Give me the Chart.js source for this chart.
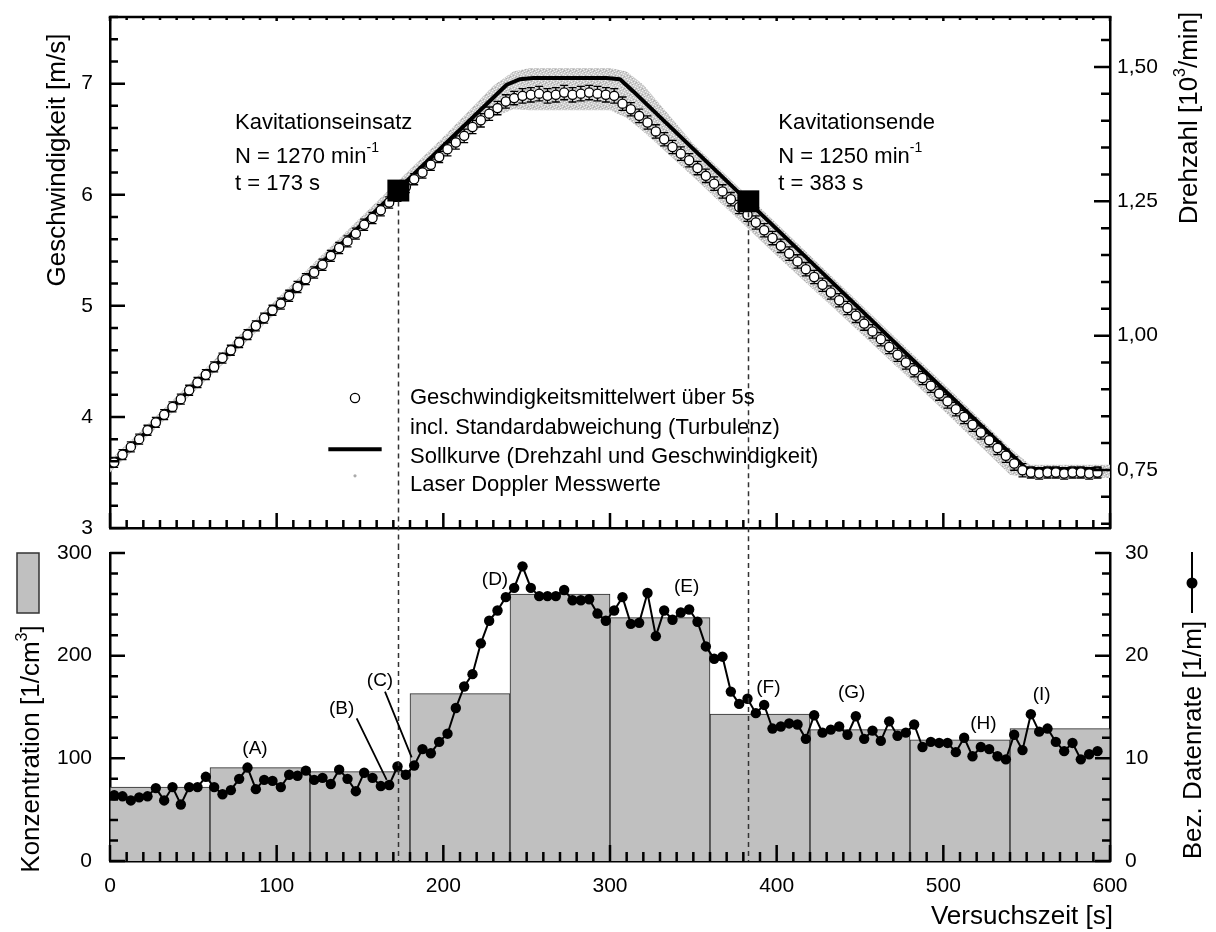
<!DOCTYPE html>
<html lang="de">
<head>
<meta charset="UTF-8">
<title>Kavitationsversuch – Geschwindigkeit und Datenrate</title>
<script src="https://cdn.jsdelivr.net/npm/chart.js"></script>
<style>
  html, body { margin: 0; padding: 0; background: #fff; }
  #wrap { position: relative; width: 1216px; height: 932px; }
  canvas { position: absolute; left: 0; }
  #oben { top: 0; }
  #unten { top: 545px; }
</style>
</head>
<body>
<div id="wrap">
  <canvas id="oben" width="1216" height="545"></canvas>
  <canvas id="unten" width="1216" height="387"></canvas>
</div>
<script>
const FONT = '"Liberation Sans", Arial, Helvetica, sans-serif';

// Sollkurve (Drehzahlrampe) in m/s
const sollT = [0, 238, 246, 254, 298, 306, 314, 550, 595];
const sollV = [3.55, 6.99, 7.04, 7.05, 7.05, 7.04, 6.93, 3.53, 3.53];

// Streubereich der LDA-Einzelwerte (obere / untere Huellkurve)
const ldaT  = [0, 50, 100, 150, 200, 230, 242, 252, 300, 310, 320, 350, 400, 450, 500, 540, 552, 600];
const ldaHi = [3.61, 4.33, 5.06, 5.79, 6.52, 6.98, 7.11, 7.14, 7.14, 7.11, 6.99, 6.46, 5.74, 5.02, 4.30, 3.72, 3.57, 3.57];
const ldaLo = [3.50, 4.22, 4.94, 5.65, 6.34, 6.70, 6.77, 6.76, 6.76, 6.69, 6.57, 6.16, 5.45, 4.76, 4.06, 3.48, 3.45, 3.45];

// Zeitpunkte der 5-s-Mittelwerte (Intervallmitte)
const tMid = [
  2.5, 7.5, 12.5, 17.5, 22.5, 27.5, 32.5, 37.5, 42.5, 47.5,
  52.5, 57.5, 62.5, 67.5, 72.5, 77.5, 82.5, 87.5, 92.5, 97.5,
  102.5, 107.5, 112.5, 117.5, 122.5, 127.5, 132.5, 137.5, 142.5, 147.5,
  152.5, 157.5, 162.5, 167.5, 172.5, 177.5, 182.5, 187.5, 192.5, 197.5,
  202.5, 207.5, 212.5, 217.5, 222.5, 227.5, 232.5, 237.5, 242.5, 247.5,
  252.5, 257.5, 262.5, 267.5, 272.5, 277.5, 282.5, 287.5, 292.5, 297.5,
  302.5, 307.5, 312.5, 317.5, 322.5, 327.5, 332.5, 337.5, 342.5, 347.5,
  352.5, 357.5, 362.5, 367.5, 372.5, 377.5, 382.5, 387.5, 392.5, 397.5,
  402.5, 407.5, 412.5, 417.5, 422.5, 427.5, 432.5, 437.5, 442.5, 447.5,
  452.5, 457.5, 462.5, 467.5, 472.5, 477.5, 482.5, 487.5, 492.5, 497.5,
  502.5, 507.5, 512.5, 517.5, 522.5, 527.5, 532.5, 537.5, 542.5, 547.5,
  552.5, 557.5, 562.5, 567.5, 572.5, 577.5, 582.5, 587.5, 592.5
];

// Geschwindigkeitsmittelwert ueber 5 s [m/s]
const vMean = [
  3.59, 3.66, 3.73, 3.80, 3.88, 3.95, 4.02, 4.09, 4.16, 4.24,
  4.31, 4.38, 4.45, 4.53, 4.60, 4.67, 4.74, 4.82, 4.89, 4.96,
  5.02, 5.09, 5.17, 5.24, 5.30, 5.37, 5.45, 5.52, 5.58, 5.65,
  5.73, 5.79, 5.86, 5.93, 5.99, 6.07, 6.14, 6.20, 6.27, 6.34,
  6.41, 6.47, 6.53, 6.61, 6.67, 6.73, 6.78, 6.84, 6.87, 6.89,
  6.90, 6.91, 6.89, 6.90, 6.92, 6.90, 6.91, 6.92, 6.91, 6.90,
  6.89, 6.82, 6.77, 6.71, 6.65, 6.57, 6.50, 6.43, 6.37, 6.31,
  6.24, 6.17, 6.10, 6.03, 5.96, 5.89, 5.82, 5.75, 5.68, 5.61,
  5.54, 5.47, 5.40, 5.33, 5.26, 5.19, 5.12, 5.05, 4.98, 4.91,
  4.84, 4.77, 4.70, 4.63, 4.56, 4.49, 4.42, 4.35, 4.28, 4.21,
  4.14, 4.07, 4.00, 3.93, 3.86, 3.79, 3.72, 3.65, 3.58, 3.52,
  3.50, 3.49, 3.50, 3.50, 3.49, 3.50, 3.50, 3.49, 3.50
];

// Standardabweichung (Turbulenz) [m/s]
const vStd = [
  0.045, 0.045, 0.045, 0.045, 0.045, 0.045, 0.045, 0.045, 0.045, 0.045,
  0.045, 0.045, 0.045, 0.045, 0.045, 0.045, 0.045, 0.045, 0.045, 0.045,
  0.05, 0.05, 0.05, 0.05, 0.05, 0.05, 0.05, 0.05, 0.05, 0.05,
  0.05, 0.05, 0.05, 0.05, 0.05, 0.05, 0.05, 0.05, 0.05, 0.05,
  0.06, 0.06, 0.06, 0.06, 0.06, 0.06, 0.06, 0.06, 0.06, 0.065,
  0.065, 0.065, 0.065, 0.065, 0.065, 0.065, 0.065, 0.065, 0.065, 0.065,
  0.065, 0.06, 0.06, 0.06, 0.06, 0.06, 0.06, 0.06, 0.06, 0.06,
  0.06, 0.06, 0.06, 0.06, 0.06, 0.06, 0.06, 0.06, 0.06, 0.06,
  0.06, 0.06, 0.06, 0.06, 0.06, 0.06, 0.06, 0.06, 0.06, 0.06,
  0.06, 0.06, 0.06, 0.06, 0.06, 0.06, 0.06, 0.06, 0.06, 0.06,
  0.06, 0.06, 0.06, 0.06, 0.06, 0.06, 0.06, 0.06, 0.06, 0.06,
  0.05, 0.05, 0.05, 0.05, 0.05, 0.05, 0.05, 0.05, 0.05
];

// Kavitationseinsatz und -ende: Zeit [s], Drehzahl [10^3/min]
const kavT = [173, 383];
const kavN = [1.27, 1.25];

// Partikelkonzentration je Minute [1/cm^3]
const binMid = [30, 90, 150, 210, 270, 330, 390, 450, 510, 570];
const konz   = [72, 91, 87, 163, 260, 237, 143, 128, 118, 129];

// Bezogene Datenrate [1/m], gleiche Zeitpunkte wie tMid
const rate = [
  6.4, 6.3, 5.9, 6.2, 6.3, 7.1, 5.9, 7.2, 5.5, 7.2,
  7.2, 8.2, 7.2, 6.5, 6.9, 8.0, 9.1, 7.0, 7.9, 7.8,
  7.2, 8.4, 8.3, 8.8, 7.9, 8.1, 7.5, 8.9, 8.0, 6.8,
  8.6, 8.1, 7.3, 7.4, 9.2, 8.4, 9.3, 10.9, 10.5, 11.6,
  12.4, 14.9, 17.0, 18.2, 21.2, 23.4, 24.4, 25.7, 26.6, 28.7,
  26.6, 25.8, 25.8, 25.8, 26.4, 25.4, 25.4, 25.5, 24.1, 23.4,
  24.4, 25.7, 23.1, 23.2, 26.1, 21.9, 24.4, 23.5, 24.2, 24.5,
  23.3, 20.9, 19.7, 19.9, 16.5, 15.3, 15.8, 14.4, 15.2, 12.9,
  13.1, 13.4, 13.3, 11.9, 14.2, 12.5, 12.8, 13.1, 12.3, 14.1,
  11.9, 12.7, 11.7, 13.6, 12.2, 12.5, 13.3, 11.1, 11.6, 11.5,
  11.5, 10.6, 12.0, 10.2, 11.1, 10.9, 10.2, 9.9, 12.3, 10.8,
  14.3, 12.6, 12.9, 11.6, 10.7, 11.5, 9.9, 10.4, 10.7
];

// Kennzeichnung der Messpunkte (A)..(I)
const markTxt = ['(A)', '(B)', '(C)', '(D)', '(E)', '(F)', '(G)', '(H)', '(I)'];
const markT   = [87, 139, 162, 231, 346, 395, 445, 524, 559];
const markK   = [109, 148, 176, 274, 267, 169, 164, 134, 162];

// Text mit Hochstellungen, Teile: 'text' oder {sup: 'x'}
function richText(ctx, parts, x, y, size, align) {
  const supSize = Math.round(size * 0.62);
  const segs = parts.map(p => typeof p === 'string' ? { s: p, sup: false } : { s: p.sup, sup: true });
  let total = 0;
  segs.forEach(g => {
    ctx.font = (g.sup ? supSize : size) + 'px ' + FONT;
    g.w = ctx.measureText(g.s).width;
    total += g.w;
  });
  let cx = align === 'center' ? x - total / 2 : (align === 'right' ? x - total : x);
  ctx.textAlign = 'left';
  ctx.textBaseline = 'middle';
  segs.forEach(g => {
    ctx.font = (g.sup ? supSize : size) + 'px ' + FONT;
    ctx.fillText(g.s, cx, g.sup ? y - size * 0.38 : y);
    cx += g.w;
  });
}

function rotText(ctx, parts, x, y, size) {
  ctx.save();
  ctx.translate(x, y);
  ctx.rotate(-Math.PI / 2);
  richText(ctx, parts, 0, 0, size, 'center');
  ctx.restore();
}

// gesprenkelte Flaeche fuer die Punktwolke der Einzelmessungen
function speckle() {
  const c = document.createElement('canvas');
  c.width = 6; c.height = 6;
  const g = c.getContext('2d');
  g.fillStyle = '#cdcdcd';
  g.fillRect(0, 0, 6, 6);
  g.fillStyle = '#f2f2f2';
  [[0, 0], [3, 1], [1, 3], [4, 4], [5, 2], [2, 5]].forEach(p => g.fillRect(p[0], p[1], 1, 1));
  g.fillStyle = '#adadad';
  [[2, 0], [5, 5], [0, 4], [3, 3]].forEach(p => g.fillRect(p[0], p[1], 1, 1));
  return g.createPattern(c, 'repeat');
}

// Teilstriche nach innen (Haupt- und Zwischenstriche)
const axisTicks = {
  id: 'axisTicks',
  afterDraw(chart, args, opts) {
    const ctx = chart.ctx, a = chart.chartArea;
    ctx.save();
    ctx.strokeStyle = '#000';
    ctx.lineWidth = 2.5;
    ctx.lineCap = 'butt';
    opts.marks.forEach(m => {
      const s = chart.scales[m.scale];
      const first = Math.ceil(s.min / m.minor - 1e-6);
      const last = Math.floor(s.max / m.minor + 1e-6);
      ctx.beginPath();
      for (let i = first; i <= last; i++) {
        const v = i * m.minor;
        const r = v / m.major;
        const len = Math.abs(r - Math.round(r)) < 1e-6 ? m.majorLen : m.minorLen;
        const p = s.getPixelForValue(v);
        if (m.side === 'left') { ctx.moveTo(a.left, p); ctx.lineTo(a.left + len, p); }
        if (m.side === 'right') { ctx.moveTo(a.right, p); ctx.lineTo(a.right - len, p); }
        if (m.side === 'bottom') { ctx.moveTo(p, a.bottom); ctx.lineTo(p, a.bottom - len); }
        if (m.side === 'top') { ctx.moveTo(p, a.top); ctx.lineTo(p, a.top + len); }
      }
      ctx.stroke();
    });
    if (opts.topLine) {
      ctx.beginPath();
      ctx.moveTo(a.left - 1.25, a.top);
      ctx.lineTo(a.right + 1.25, a.top);
      ctx.stroke();
    }
    ctx.restore();
  }
};

// Fehlerbalken der Mittelwerte, unter den Kreisen
const errorBars = {
  id: 'errorBars',
  beforeDatasetDraw(chart, args) {
    if (args.index !== 1) return;
    const ctx = chart.ctx, x = chart.scales.x, y = chart.scales.y;
    ctx.save();
    ctx.strokeStyle = '#000';
    ctx.lineWidth = 1.3;
    ctx.beginPath();
    tMid.forEach((t, i) => {
      const px = x.getPixelForValue(t);
      const hi = y.getPixelForValue(vMean[i] + vStd[i]);
      const lo = y.getPixelForValue(vMean[i] - vStd[i]);
      ctx.moveTo(px, hi); ctx.lineTo(px, lo);
      ctx.moveTo(px - 4, hi); ctx.lineTo(px + 4, hi);
      ctx.moveTo(px - 4, lo); ctx.lineTo(px + 4, lo);
    });
    ctx.stroke();
    ctx.restore();
  }
};

// gestrichelte Senkrechte bei Kavitationseinsatz / -ende
function kavLine(chart, yFrom, yTo) {
  const ctx = chart.ctx, x = chart.scales.x;
  ctx.save();
  ctx.strokeStyle = '#333';
  ctx.lineWidth = 1.5;
  ctx.setLineDash([5, 4]);
  kavT.forEach((t, i) => {
    const px = Math.round(x.getPixelForValue(t)) + 0.5;
    ctx.beginPath();
    ctx.moveTo(px, yFrom(i));
    ctx.lineTo(px, yTo);
    ctx.stroke();
  });
  ctx.restore();
}

const textOben = {
  id: 'textOben',
  afterDatasetsDraw(chart) {
    const yR = chart.scales.yR;
    kavLine(chart, i => yR.getPixelForValue(kavN[i]) + 11, chart.height);
  },
  afterDraw(chart) {
    const ctx = chart.ctx, x = chart.scales.x, y = chart.scales.y;
    ctx.save();
    ctx.fillStyle = '#000';
    rotText(ctx, ['Geschwindigkeit [m/s]'], 58, 160, 26);
    rotText(ctx, ['Drehzahl [10', { sup: '3' }, '/min]'], 1190, 118, 26);

    const heads = ['Kavitationseinsatz', 'Kavitationsende'];
    const left = [75, 401];
    kavT.forEach((t, i) => {
      const px = x.getPixelForValue(left[i]);
      richText(ctx, [heads[i]], px, y.getPixelForValue(6.65), 22, 'left');
      richText(ctx, ['N = ' + Math.round(kavN[i] * 1000) + ' min', { sup: '-1' }], px, y.getPixelForValue(6.34), 22, 'left');
      richText(ctx, ['t = ' + t + ' s'], px, y.getPixelForValue(6.10), 22, 'left');
    });

    // Legende
    const lx = x.getPixelForValue(180);
    const sx = x.getPixelForValue(147);
    ctx.lineWidth = 1.3;
    ctx.strokeStyle = '#000';
    ctx.fillStyle = '#fff';
    ctx.beginPath();
    ctx.arc(sx, y.getPixelForValue(4.17), 4.6, 0, Math.PI * 2);
    ctx.fill();
    ctx.stroke();
    ctx.lineWidth = 4;
    ctx.beginPath();
    ctx.moveTo(x.getPixelForValue(131), y.getPixelForValue(3.71));
    ctx.lineTo(x.getPixelForValue(163), y.getPixelForValue(3.71));
    ctx.stroke();
    ctx.fillStyle = '#aaa';
    ctx.beginPath();
    ctx.arc(sx, y.getPixelForValue(3.47), 1.6, 0, Math.PI * 2);
    ctx.fill();
    ctx.fillStyle = '#000';
    richText(ctx, ['Geschwindigkeitsmittelwert über 5s'], lx, y.getPixelForValue(4.17), 22, 'left');
    richText(ctx, ['incl. Standardabweichung (Turbulenz)'], lx, y.getPixelForValue(3.90), 22, 'left');
    richText(ctx, ['Sollkurve (Drehzahl und Geschwindigkeit)'], lx, y.getPixelForValue(3.64), 22, 'left');
    richText(ctx, ['Laser Doppler Messwerte'], lx, y.getPixelForValue(3.39), 22, 'left');
    ctx.restore();
  }
};

const textUnten = {
  id: 'textUnten',
  afterDatasetsDraw(chart) {
    kavLine(chart, () => 0, chart.chartArea.bottom);
  },
  afterDraw(chart) {
    const ctx = chart.ctx, x = chart.scales.x, y = chart.scales.y, a = chart.chartArea;
    ctx.save();
    ctx.fillStyle = '#000';
    rotText(ctx, ['Konzentration [1/cm', { sup: '3' }, ']'], 32, 204, 26);
    rotText(ctx, ['Bez. Datenrate [1/m]'], 1194, 195, 26);
    richText(ctx, ['Versuchszeit [s]'], a.right + 3, 372, 26, 'right');

    // Legendensymbole an den Achsentiteln
    ctx.fillStyle = '#c0c0c0';
    ctx.fillRect(17, a.top, 22, 60);
    ctx.strokeStyle = '#333';
    ctx.lineWidth = 1.5;
    ctx.strokeRect(17, a.top, 22, 60);
    ctx.strokeStyle = '#000';
    ctx.lineWidth = 2;
    ctx.beginPath();
    ctx.moveTo(1192, a.top - 1);
    ctx.lineTo(1192, a.top + 60);
    ctx.stroke();
    ctx.fillStyle = '#000';
    ctx.beginPath();
    ctx.arc(1192, a.top + 30, 5.5, 0, Math.PI * 2);
    ctx.fill();

    // Kennbuchstaben
    markTxt.forEach((s, i) => {
      richText(ctx, [s], x.getPixelForValue(markT[i]), y.getPixelForValue(markK[i]), 19, 'center');
    });
    ctx.lineWidth = 1.8;
    ctx.beginPath();
    ctx.moveTo(x.getPixelForValue(148), y.getPixelForValue(139));
    ctx.lineTo(x.getPixelForValue(166), y.getPixelForValue(79));
    ctx.moveTo(x.getPixelForValue(165), y.getPixelForValue(165));
    ctx.lineTo(x.getPixelForValue(181), y.getPixelForValue(101));
    ctx.stroke();
    ctx.restore();
  }
};

const tickFont = { family: FONT, size: 21 };
const noPad = s => { s.paddingTop = 0; s.paddingBottom = 0; s.paddingLeft = 0; s.paddingRight = 0; };
const axisBase = {
  type: 'linear',
  grid: { display: false, drawTicks: false },
  border: { display: true, color: '#000', width: 2.5 }
};

new Chart(document.getElementById('oben'), {
  type: 'line',
  data: {
    datasets: [
      {
        label: 'Kavitation',
        data: kavT.map((t, i) => ({ x: t, y: kavN[i] })),
        yAxisID: 'yR', showLine: false,
        pointStyle: 'rect', pointRadius: 15.5,
        pointBackgroundColor: '#000', pointBorderColor: '#000', pointBorderWidth: 0
      },
      {
        label: 'Geschwindigkeitsmittelwert über 5s',
        data: tMid.map((t, i) => ({ x: t, y: vMean[i] })),
        yAxisID: 'y', showLine: false,
        pointRadius: 4.6, pointBackgroundColor: '#fff', pointBorderColor: '#000', pointBorderWidth: 1.3
      },
      {
        label: 'Sollkurve',
        data: sollT.map((t, i) => ({ x: t, y: sollV[i] })),
        yAxisID: 'y', borderColor: '#000', borderWidth: 4, pointRadius: 0,
        borderJoinStyle: 'round', tension: 0
      },
      {
        label: 'Laser Doppler Messwerte',
        data: ldaT.map((t, i) => ({ x: t, y: ldaHi[i] })),
        yAxisID: 'y', borderColor: 'rgba(0,0,0,0)', pointRadius: 0,
        fill: '+1', backgroundColor: speckle(), tension: 0
      },
      {
        label: 'LDA unten',
        data: ldaT.map((t, i) => ({ x: t, y: ldaLo[i] })),
        yAxisID: 'y', borderColor: 'rgba(0,0,0,0)', pointRadius: 0, fill: false, tension: 0
      }
    ]
  },
  options: {
    responsive: false,
    animation: false,
    devicePixelRatio: 1,
    events: [],
    layout: { padding: { top: 17, left: 0, right: 0, bottom: 0 } },
    plugins: {
      legend: { display: false },
      tooltip: { enabled: false },
      axisTicks: {
        topLine: true,
        marks: [
          { scale: 'x', side: 'bottom', major: 100, minor: 10, majorLen: 15, minorLen: 8 },
          { scale: 'x', side: 'top', major: 100, minor: 10, majorLen: 4, minorLen: 3 },
          { scale: 'y', side: 'left', major: 1, minor: 0.2, majorLen: 15, minorLen: 8 },
          { scale: 'yR', side: 'right', major: 0.25, minor: 0.05, majorLen: 16, minorLen: 9 }
        ]
      }
    },
    scales: {
      x: {
        ...axisBase, position: 'bottom', min: 0, max: 600,
        ticks: { display: false, stepSize: 100 },
        afterFit: s => { s.height = 17; noPad(s); }
      },
      y: {
        ...axisBase, position: 'left', min: 3, max: 7.6,
        ticks: { stepSize: 1, includeBounds: false, autoSkip: false, padding: 17, color: '#000', font: tickFont },
        afterFit: s => { s.width = 110; noPad(s); }
      },
      yR: {
        ...axisBase, position: 'right', min: 0.642, max: 1.593,
        ticks: {
          stepSize: 0.25, includeBounds: false, autoSkip: false, padding: 7, color: '#000', font: tickFont,
          callback: v => v.toFixed(2).replace('.', ',')
        },
        afterFit: s => { s.width = 106; noPad(s); }
      }
    }
  },
  plugins: [errorBars, textOben, axisTicks]
});

new Chart(document.getElementById('unten'), {
  type: 'bar',
  data: {
    datasets: [
      {
        type: 'line',
        label: 'Bez. Datenrate',
        data: tMid.map((t, i) => ({ x: t, y: rate[i] })),
        yAxisID: 'yR', borderColor: '#000', borderWidth: 2, tension: 0,
        pointRadius: 5.2, pointBackgroundColor: '#000', pointBorderColor: '#000', pointBorderWidth: 0
      },
      {
        type: 'bar',
        label: 'Konzentration',
        data: binMid.map((t, i) => ({ x: t, y: konz[i] })),
        yAxisID: 'y', backgroundColor: '#c0c0c0', borderColor: '#2a2a2a', borderWidth: 1,
        barPercentage: 1, categoryPercentage: 1
      }
    ]
  },
  options: {
    responsive: false,
    animation: false,
    devicePixelRatio: 1,
    events: [],
    layout: { padding: { top: 8, left: 0, right: 0, bottom: 0 } },
    plugins: {
      legend: { display: false },
      tooltip: { enabled: false },
      axisTicks: {
        topLine: false,
        marks: [
          { scale: 'x', side: 'bottom', major: 100, minor: 10, majorLen: 16, minorLen: 9 },
          { scale: 'y', side: 'left', major: 100, minor: 20, majorLen: 15, minorLen: 8 },
          { scale: 'yR', side: 'right', major: 10, minor: 2, majorLen: 15, minorLen: 8 }
        ]
      }
    },
    scales: {
      x: {
        ...axisBase, position: 'bottom', min: 0, max: 600, offset: false,
        grid: { display: false, drawTicks: false, offset: false },
        ticks: { stepSize: 100, autoSkip: false, maxRotation: 0, padding: 13, color: '#000', font: tickFont },
        afterFit: s => { s.height = 71; noPad(s); }
      },
      y: {
        ...axisBase, position: 'left', min: 0, max: 300,
        ticks: { stepSize: 100, autoSkip: false, padding: 18, color: '#000', font: tickFont },
        afterFit: s => { s.width = 110; noPad(s); }
      },
      yR: {
        ...axisBase, position: 'right', min: 0, max: 30,
        ticks: { stepSize: 10, autoSkip: false, padding: 15, color: '#000', font: tickFont },
        afterFit: s => { s.width = 106; noPad(s); }
      }
    }
  },
  plugins: [textUnten, axisTicks]
});
</script>
</body>
</html>
